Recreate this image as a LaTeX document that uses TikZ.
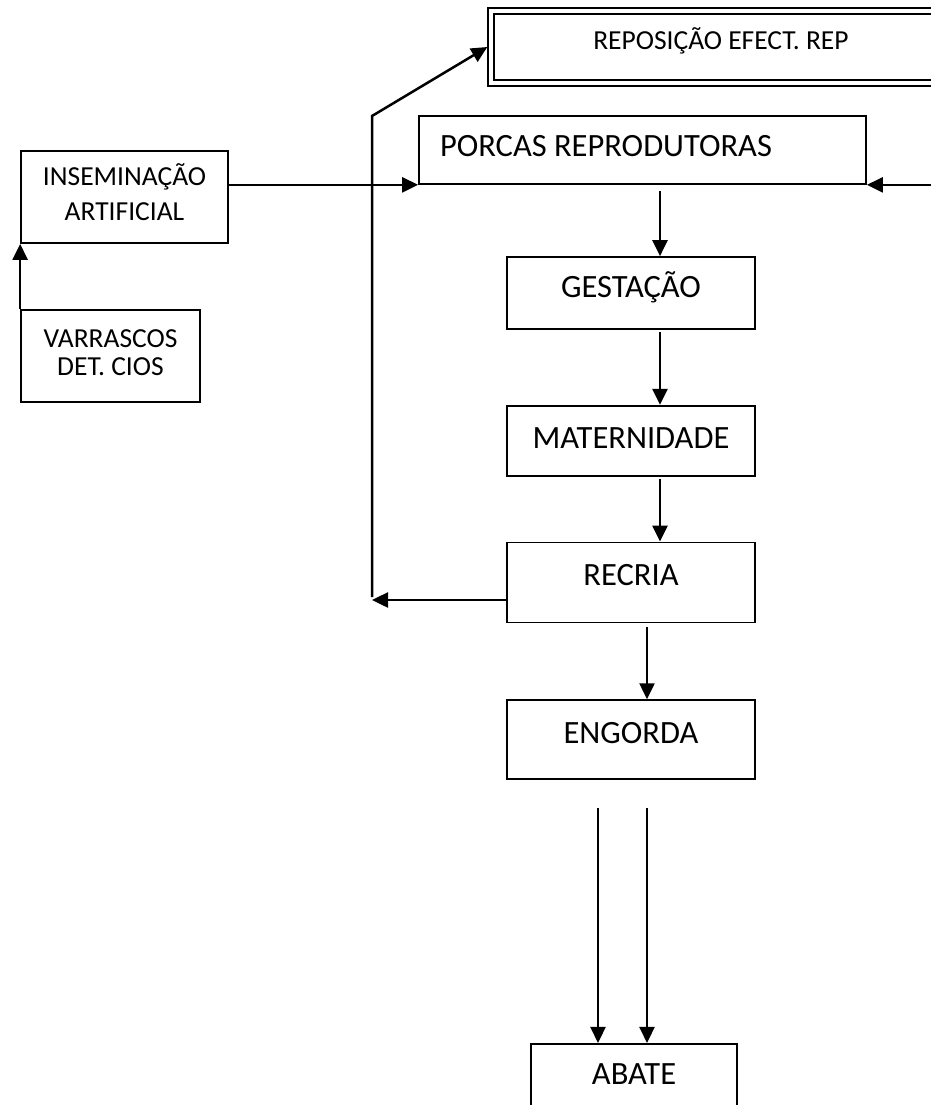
\documentclass[tikz,border=0pt]{standalone}
\usepackage{fontspec}
\setmainfont{Carlito}
\usepackage{tikz}
\usetikzlibrary{positioning, arrows.meta}
\tikzset{
  stage/.style={rectangle, draw, line width=1.7pt, inner xsep=0pt, inner ysep=0pt, minimum width=248pt, align=center, font=\fontsize{32.5}{36}\selectfont},
  arrow/.style={-{Triangle[length=16pt, width=15pt]}, line width=2.5pt},
}

\begin{document}
\begin{tikzpicture}[x=1pt, y=-1pt]
  \tikzset{
    smallstage/.style={stage, font=\fontsize{27.5}{35}\selectfont},
    doublestage/.style={smallstage, double, double distance=3.5pt, line width=1.9pt},
  }
  \useasboundingbox (0,0) rectangle (931,1105);
  \clip (0,0) rectangle (931,1105);

  % Nodes
  \node[doublestage, minimum width=460pt, text height=39pt, text depth=33pt] (repos) at (721,47) {REPOSIÇÃO EFECT. REP};
  \node[stage, text width=405pt, inner xsep=21pt, align=flush left, text height=41pt, text depth=27pt] (porcas) at (642.5,150) {PORCAS REPRODUTORAS};
  \node[smallstage, minimum width=207pt, text height=69pt, text depth=23pt] (insem) at (124.5,197) {INSEMINAÇÃO\\ARTIFICIAL};
  \node[smallstage, minimum width=179pt, text height=65pt, text depth=27pt, font=\fontsize{27.5}{28}\selectfont] (varr) at (110.5,356) {VARRASCOS\\DET. CIOS};

  \node[stage, text height=40pt, text depth=32pt] (gest) at (631,293) {GESTAÇÃO};
  \node[stage, text height=43pt, text depth=27pt, below=75pt of gest] (mater) {MATERNIDADE};
  \node[stage, text height=43pt, text depth=37pt, below=65pt of mater] (recria) {RECRIA};
  \node[stage, text height=43pt, text depth=36pt, below=76pt of recria] (engorda) {ENGORDA};
  \node[stage, minimum width=206pt, text height=41pt, text depth=37pt, below=263pt of engorda, xshift=3pt] (abate) {ABATE};

  \coordinate (spine) at (660,0);
  \coordinate (leftlane) at (598,0);
  \coordinate (rightlane) at (647,0);
  \coordinate (rightin) at (945,0);
  \coordinate (loopfoot) at (372,600);
  \coordinate (loopbend) at (372,116);

  % Inputs to the sows
  \draw[arrow] (varr.north west) -- (insem.south west);
  \draw[arrow] (insem.east |- porcas.south) -- (porcas.south west);
  \draw[arrow] (porcas.south east -| rightin) -- (porcas.south east);

  % Main line
  \draw[arrow] (porcas.south -| spine) ++(0,6) -- (gest.north -| spine);
  \draw[arrow] (gest.south -| spine) ++(0,2) -- (mater.north -| spine);
  \draw[arrow] (mater.south -| spine) ++(0,2) -- (recria.north -| spine);
  \draw[arrow] (recria.south -| rightlane) ++(0,4) -- (engorda.north -| rightlane);
  \draw[arrow] (engorda.south -| leftlane) ++(0,28) -- (abate.north -| leftlane);
  \draw[arrow] (engorda.south -| rightlane) ++(0,28) -- (abate.north -| rightlane);

  % Replacement loop
  \draw[arrow] (recria.west |- loopfoot) -- (loopfoot);
  \draw[arrow] (loopfoot) ++(0,-3) -- (loopbend) -- ([xshift=-2.7pt]repos.west);

\end{tikzpicture}
\end{document}
